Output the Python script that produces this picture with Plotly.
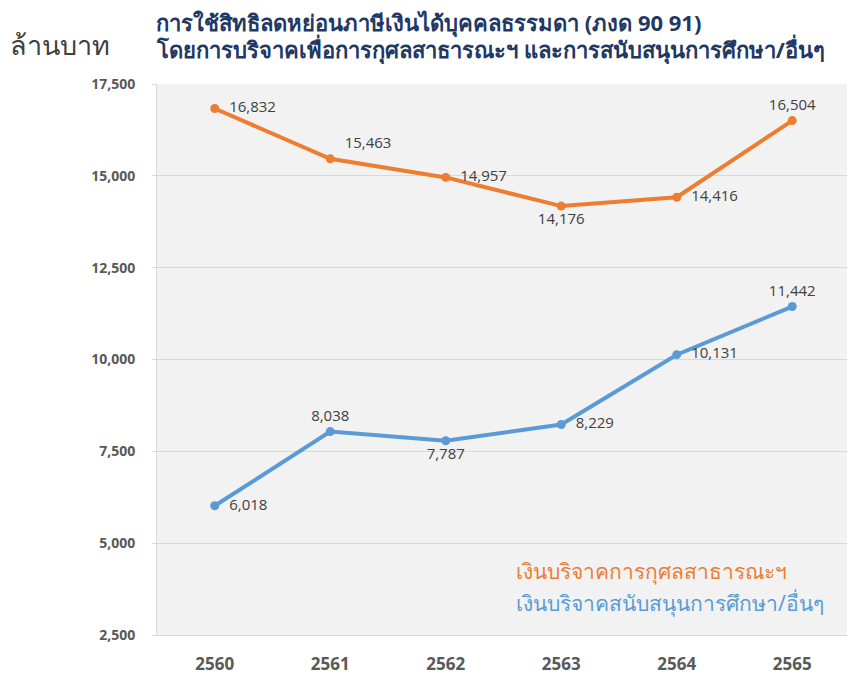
import plotly.graph_objects as go

years = ["2560", "2561", "2562", "2563", "2564", "2565"]
charity = [16832, 15463, 14957, 14176, 14416, 16504]
education = [6018, 8038, 7787, 8229, 10131, 11442]
charity_pos = ["middle right", "top right", "middle right", "bottom center", "middle right", "top center"]
education_pos = ["middle right", "top center", "bottom center", "middle right", "middle right", "top center"]
y_ticks = [2500, 5000, 7500, 10000, 12500, 15000, 17500]

ORANGE = "#ED7D31"
BLUE = "#5B9BD5"
LABEL_FONT = dict(family="Open Sans, Liberation Sans, sans-serif", size=15, color="#404040")


def labels(values, positions):
    out = []
    for v, p in zip(values, positions):
        s = f"{v:,}"
        if p.endswith("right"):
            s = "  " + s
        out.append(s)
    return out


fig = go.Figure()
fig.add_trace(go.Scatter(
    x=years, y=charity, mode="lines+markers+text",
    line=dict(color=ORANGE, width=4), marker=dict(color=ORANGE, size=9),
    text=labels(charity, charity_pos), textposition=charity_pos,
    textfont=LABEL_FONT, cliponaxis=False, showlegend=False,
))
fig.add_trace(go.Scatter(
    x=years, y=education, mode="lines+markers+text",
    line=dict(color=BLUE, width=4), marker=dict(color=BLUE, size=9),
    text=labels(education, education_pos), textposition=education_pos,
    textfont=LABEL_FONT, cliponaxis=False, showlegend=False,
))

# page body adds an 8px offset; compensate so the plot lands where the reference has it
OFF = 8
W, H = 855, 675
left, right, top, bottom = 157 - OFF, W - (850 - OFF), 84 - OFF, H - (635 - OFF)
pw = W - left - right
ph = H - top - bottom


def px(pix):
    return (pix - OFF - left) / pw


def py(pix):
    return (H - bottom - (pix - OFF)) / ph


title_font = dict(family="Noto Sans, sans-serif", size=22, color="#1F3864")
anns = [
    dict(text="<b>การใช้สิทธิลดหย่อนภาษีเงินได้บุคคลธรรมดา (ภงด 90 91)</b>",
         x=px(154), y=py(22), xanchor="left", yanchor="middle", font=title_font),
    dict(text="<b>โดยการบริจาคเพื่อการกุศลสาธารณะฯ และการสนับสนุนการศึกษา/อื่นๆ</b>",
         x=px(154), y=py(50), xanchor="left", yanchor="middle", font=title_font),
    dict(text="ล้านบาท", x=px(8), y=py(45), xanchor="left", yanchor="middle",
         font=dict(family="Noto Sans, sans-serif", size=27, color="#404040")),
    dict(text="เงินบริจาคการกุศลสาธารณะฯ", x=px(514), y=py(571), xanchor="left", yanchor="middle",
         font=dict(family="Noto Sans, sans-serif", size=21, color=ORANGE)),
    dict(text="เงินบริจาคสนับสนุนการศึกษา/อื่นๆ", x=px(514), y=py(603), xanchor="left", yanchor="middle",
         font=dict(family="Noto Sans, sans-serif", size=21, color=BLUE)),
]
for a in anns:
    a.update(xref="paper", yref="paper", showarrow=False)

fig.update_layout(
    width=W, height=H,
    margin=dict(l=left, r=right, t=top, b=bottom, autoexpand=False),
    paper_bgcolor="white", plot_bgcolor="#F2F2F2",
    annotations=anns,
    xaxis=dict(type="category", range=[-0.5, len(years) - 0.5], showgrid=False, showline=True,
               linecolor="#D9D9D9", linewidth=1, ticks="",
               tickfont=dict(family="Open Sans, sans-serif", size=17, color="#595959", weight="bold"),
               ticklabelstandoff=14, automargin=False),
    yaxis=dict(range=[2500, 17500], tickvals=y_ticks, tickformat=",", showgrid=True,
               gridcolor="#D9D9D9", gridwidth=1, showline=True, linecolor="#D9D9D9",
               ticks="outside", ticklen=4, tickcolor="#D9D9D9", zeroline=False, automargin=False,
               ticklabelstandoff=14,
               tickfont=dict(family="Open Sans, sans-serif", size=14, color="#595959", weight="bold")),
)

fig.write_html("out.html")
